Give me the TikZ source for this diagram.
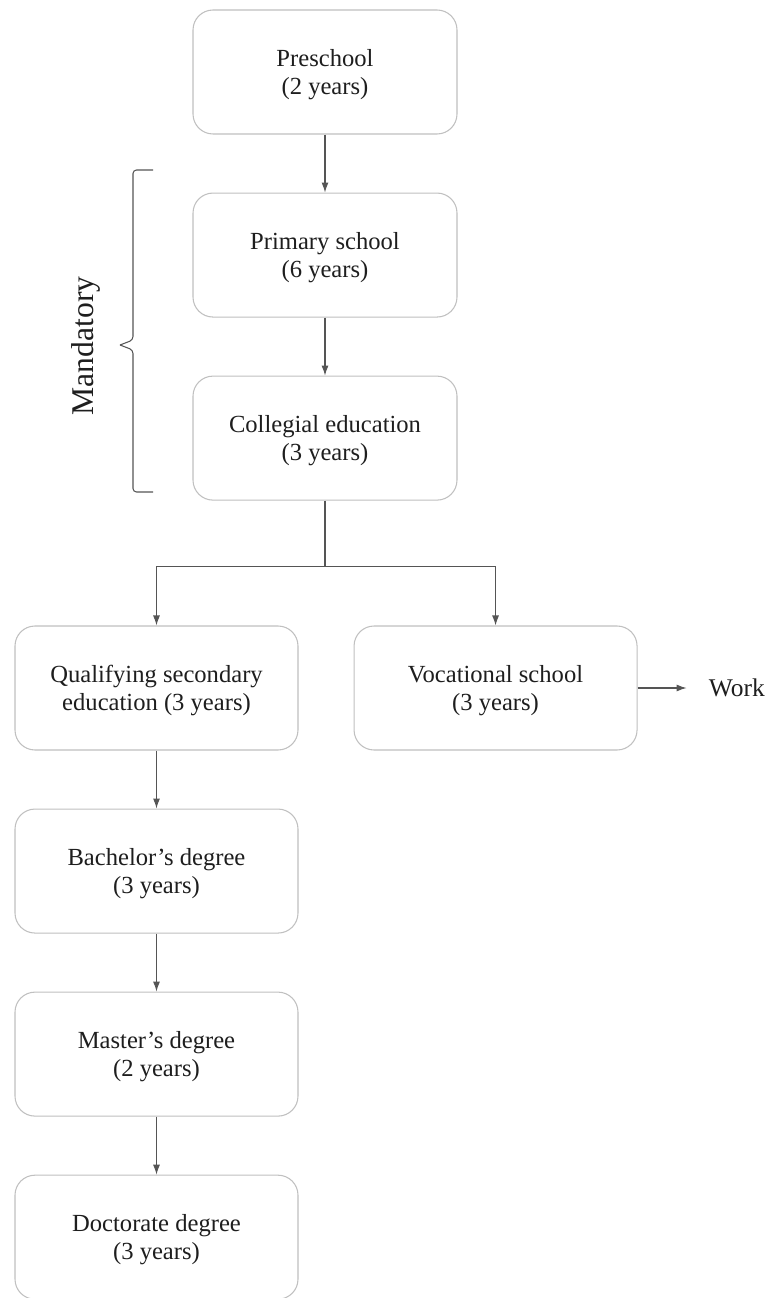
\documentclass[tikz,border=0pt]{standalone}
\usepackage{fontspec}
\setmainfont{Liberation Serif}
\usetikzlibrary{arrows.meta,positioning,calc}
\usepackage{xcolor}
\definecolor{BoxGray}{RGB}{192,192,192}
\definecolor{ArrowGray}{RGB}{85,85,85}
\definecolor{TextDark}{RGB}{30,30,30}
\tikzset{
  stagebox/.style={draw=BoxGray,rounded corners=4mm,fill=white,line width=0.6pt,
    minimum width=5.28cm,minimum height=2.48cm,align=center,text=TextDark,
    text depth=-1pt,font=\fontsize{14}{16.2}\selectfont},
  widebox/.style={stagebox,minimum width=5.66cm},
  flowarrow/.style={-{Latex[length=2mm,width=1.4mm]},line width=0.6pt,draw=ArrowGray},
}
\begin{document}
\begin{tikzpicture}[node distance=1.16cm, >=Latex]
  \useasboundingbox (0,0) rectangle (15.32,-25.96);
  % upper chain
  \node[stagebox] (pre) at (6.5,-1.44) {Preschool\\(2 years)};
  \node[stagebox,below=of pre] (prim) {Primary school\\(6 years)};
  \node[stagebox,below=of prim] (coll) {Collegial education\\(3 years)};
  % branches
  \node[widebox] (qual) at (3.13,-13.76) {Qualifying secondary\\education (3 years)};
  \node[widebox,right=1.1cm of qual] (voc) {Vocational school\\(3 years)};
  \node[right=0.98cm of voc,inner xsep=0.44cm,text=TextDark,font=\fontsize{14.5}{16}\selectfont] (work) {Work};
  \node[widebox,below=of qual] (bach) {Bachelor’s degree\\(3 years)};
  \node[widebox,below=of bach] (mast) {Master’s degree\\(2 years)};
  \node[widebox,below=of mast] (doct) {Doctorate degree\\(3 years)};
  \coordinate (split) at ($(coll.south)+(0,-1.32)$);
  \draw[flowarrow] (pre) -- (prim);
  \draw[flowarrow] (prim) -- (coll);
  \draw[line width=0.6pt,ArrowGray] (coll.south) -- (split);
  \draw[flowarrow] (split) -| (qual.north);
  \draw[flowarrow] (split) -| (voc.north);
  \draw[flowarrow] (voc) -- (work);
  \draw[flowarrow] (qual) -- (bach);
  \draw[flowarrow] (bach) -- (mast);
  \draw[flowarrow] (mast) -- (doct);
  % mandatory bracket
  \draw[line width=0.6pt,ArrowGray,rounded corners=2pt]
    (3.06,-3.4) -- (2.66,-3.4) -- (2.66,-6.8) -- (2.4,-6.9);
  \draw[line width=0.6pt,ArrowGray,rounded corners=2pt]
    (3.06,-9.84) -- (2.66,-9.84) -- (2.66,-7.0) -- (2.4,-6.9);
  \node[rotate=90,text=TextDark,font=\fontsize{18}{20}\selectfont] (mand) at (1.72,-6.92) {Mandatory};
\end{tikzpicture}
\end{document}
